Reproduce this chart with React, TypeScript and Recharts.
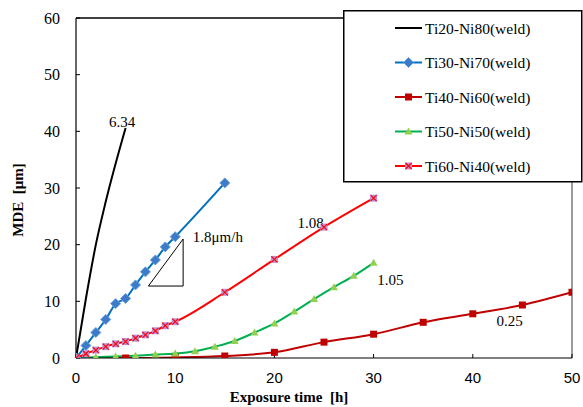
import {
  ComposedChart,
  Legend,
  Line,
  ReferenceDot,
  ReferenceLine,
  XAxis,
  YAxis,
} from 'recharts'

const serif = 'Liberation Serif'
const sans = 'Liberation Sans'

// exposure time [h] / MDE [μm] for each weld
const timeTi20 = [0, 1, 2, 3, 5]
const mdeTi20 = [0, 10.5, 20.0, 27.6, 40.6]

const timeTi30 = [0, 1, 2, 3, 4, 5, 6, 7, 8, 9, 10, 15]
const mdeTi30 = [0, 2.2, 4.5, 6.8, 9.6, 10.5, 12.9, 15.2, 17.3, 19.6, 21.4, 30.9]

const timeTi40 = [0, 5, 10, 15, 20, 25, 30, 35, 40, 45, 50]
const mdeTi40 = [0, 0, 0.1, 0.35, 1.0, 2.8, 4.2, 6.3, 7.8, 9.35, 11.6]

const timeTi50 = [0, 2, 4, 6, 8, 10, 12, 14, 16, 18, 20, 22, 24, 26, 28, 30]
const mdeTi50 = [0, 0.15, 0.25, 0.4, 0.6, 0.8, 1.2, 2.0, 3.0, 4.5, 6.1, 8.2, 10.4, 12.5, 14.5, 16.8]

const timeTi60 = [0, 1, 2, 3, 4, 5, 6, 7, 8, 9, 10, 15, 20, 25, 30]
const mdeTi60 = [0, 0.75, 1.4, 2.0, 2.5, 2.9, 3.5, 4.1, 4.8, 5.7, 6.4, 11.6, 17.4, 23.1, 28.2]

// slope triangle next to the Ti30 curve
const slopeTime = [7.3, 10.8, 10.8, 7.3]
const slopeMde = [12.7, 21.0, 12.7, 12.7]

// rate notes (μm/h) written beside the curves
const notes = [
  { t: 4.65, mde: 41.7, text: '6.34' },
  { t: 14.3, mde: 21.35, text: '1.8μm/h' },
  { t: 23.65, mde: 23.9, text: '1.08' },
  { t: 31.7, mde: 13.85, text: '1.05' },
  { t: 43.7, mde: 6.5, text: '0.25' },
]

const xTicks = [0, 10, 20, 30, 40, 50]
const yTicks = [0, 10, 20, 30, 40, 50, 60]

const toPoints = (times: number[], values: number[]) =>
  times.map((t, i) => ({ t, mde: values[i] }))

type MarkerKind = 'none' | 'diamond' | 'square' | 'triangle' | 'cross'

const Marker = ({ kind, cx, cy }: { kind: MarkerKind; cx: number; cy: number }) => {
  switch (kind) {
    case 'diamond':
      return (
        <path
          d={`M${cx} ${cy - 5}L${cx + 5} ${cy}L${cx} ${cy + 5}L${cx - 5} ${cy}Z`}
          fill="#3b7bc8"
          stroke="#6b9edb"
          strokeWidth={1}
        />
      )
    case 'square':
      return <rect x={cx - 3.5} y={cy - 3.5} width={7} height={7} fill="#c00000" />
    case 'triangle':
      return (
        <path
          d={`M${cx} ${cy - 4}L${cx + 4} ${cy + 3}L${cx - 4} ${cy + 3}Z`}
          fill="#92d050"
        />
      )
    case 'cross':
      return (
        <g>
          <rect x={cx - 3.5} y={cy - 3.5} width={7} height={7} fill="#bf8fd6" />
          <path
            d={`M${cx - 3} ${cy - 3}L${cx + 3} ${cy + 3}M${cx + 3} ${cy - 3}L${cx - 3} ${cy + 3}`}
            stroke="#ff0000"
            strokeWidth={1.1}
          />
        </g>
      )
    default:
      return null
  }
}

const series: { name: string; data: { t: number; mde: number }[]; color: string; marker: MarkerKind }[] = [
  { name: 'Ti20-Ni80(weld)', data: toPoints(timeTi20, mdeTi20), color: '#000000', marker: 'none' },
  { name: 'Ti30-Ni70(weld)', data: toPoints(timeTi30, mdeTi30), color: '#0070c0', marker: 'diamond' },
  { name: 'Ti40-Ni60(weld)', data: toPoints(timeTi40, mdeTi40), color: '#c00000', marker: 'square' },
  { name: 'Ti50-Ni50(weld)', data: toPoints(timeTi50, mdeTi50), color: '#00b050', marker: 'triangle' },
  { name: 'Ti60-Ni40(weld)', data: toPoints(timeTi60, mdeTi60), color: '#ff0000', marker: 'cross' },
]

// boxed legend, one row per weld
const LegendBox = () => (
  <svg width={240} height={173} style={{ display: 'block' }}>
    <rect x={0.75} y={0.75} width={238} height={171} fill="#fff" stroke="#000" strokeWidth={1.5} />
    {series.map((s, i) => {
      const cy = 18 + i * 34.5
      return (
        <g key={s.name}>
          <line x1={52} y1={cy} x2={79} y2={cy} stroke={s.color} strokeWidth={2} />
          <Marker kind={s.marker} cx={65.5} cy={cy} />
          <text x={82} y={cy} dy={5.5} fontFamily={serif} fontSize={15.5} fill="#000">
            {s.name}
          </text>
        </g>
      )
    })}
  </svg>
)

const noteShape = (text: string) => (props: any) => (
  <text
    x={props.cx}
    y={props.cy}
    textAnchor="middle"
    dominantBaseline="central"
    fontFamily={serif}
    fontSize={15}
    fill="#000"
  >
    {text}
  </text>
)

const XTick = ({ x, y, payload }: any) => (
  <text x={x} y={y} dy={15} textAnchor="middle" fontFamily={sans} fontSize={15} fill="#000">
    {payload.value}
  </text>
)

const YTick = ({ x, y, payload }: any) => (
  <text x={x} y={y} dy={5.5} textAnchor="end" fontFamily={serif} fontSize={16} fill="#000">
    {payload.value}
  </text>
)

export default function App() {
  return (
    <div style={{ position: 'absolute', left: 0, top: 0, background: '#fff' }}>
      <ComposedChart width={583} height={407} margin={{ top: 18, right: 11, bottom: 0, left: 0 }}>
        <XAxis
          type="number"
          dataKey="t"
          domain={[0, 50]}
          ticks={xTicks}
          allowDataOverflow
          height={49}
          stroke="#000"
          axisLine={{ stroke: '#000', strokeWidth: 1.2 }}
          tickLine={{ stroke: '#000' }}
          tickSize={-4}
          tickMargin={14}
          tick={<XTick />}
          label={{
            content: ({ viewBox }: any) => (
              <text
                x={viewBox.x + 213}
                y={viewBox.y + 44}
                textAnchor="middle"
                fontFamily={serif}
                fontWeight="bold"
                fontSize={15}
                style={{ whiteSpace: 'pre' }}
              >
                {'Exposure time  [h]'}
              </text>
            ),
          }}
        />
        <YAxis
          type="number"
          dataKey="mde"
          domain={[0, 60]}
          ticks={yTicks}
          allowDataOverflow
          width={76}
          axisLine={{ stroke: '#000', strokeWidth: 1.2 }}
          tickLine={{ stroke: '#000' }}
          tickSize={-4}
          tickMargin={20}
          tick={<YTick />}
          label={{
            content: ({ viewBox }: any) => {
              const cx = viewBox.x + 18
              const cy = 200
              return (
                <text
                  x={cx}
                  y={cy}
                  transform={`rotate(-90 ${cx} ${cy})`}
                  textAnchor="middle"
                  dominantBaseline="central"
                  fontFamily={serif}
                  fontWeight="bold"
                  fontSize={15}
                  style={{ whiteSpace: 'pre' }}
                >
                  {'MDE  [μm]'}
                </text>
              )
            },
          }}
        />
        <ReferenceLine y={60} stroke="#000" strokeWidth={1.5} />
        <ReferenceLine x={50} stroke="#666" strokeWidth={1.3} />
        <Line
          data={toPoints(slopeTime, slopeMde)}
          dataKey="mde"
          type="linear"
          stroke="#000"
          strokeWidth={1}
          dot={false}
          legendType="none"
          isAnimationActive={false}
        />
        {series.map((s) => (
          <Line
            key={s.name}
            name={s.name}
            data={s.data}
            dataKey="mde"
            type="monotone"
            stroke={s.color}
            strokeWidth={2}
            dot={
              s.marker === 'none'
                ? false
                : (p: any) => (
                    <g key={`${s.name}-${p.index}`}>
                      <Marker kind={s.marker} cx={p.cx} cy={p.cy} />
                    </g>
                  )
            }
            activeDot={false}
            isAnimationActive={false}
          />
        ))}
        {notes.map((n) => (
          <ReferenceDot key={n.text} x={n.t} y={n.mde} r={0} shape={noteShape(n.text)} />
        ))}
        <Legend
          layout="vertical"
          align="center"
          verticalAlign="middle"
          content={<LegendBox />}
          wrapperStyle={{ left: 343, top: 10, width: 240, height: 173 }}
        />
      </ComposedChart>
    </div>
  )
}
